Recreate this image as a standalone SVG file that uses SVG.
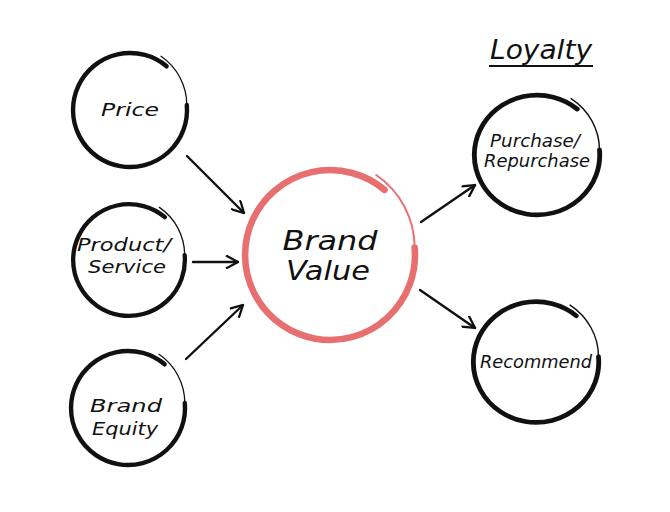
<svg xmlns="http://www.w3.org/2000/svg" xmlns:xlink="http://www.w3.org/1999/xlink" width="670" height="512" viewBox="0 0 670 512">
<style>
  .lbl { font-family: "DejaVu Sans", "Liberation Sans", sans-serif; font-style: italic; fill: #111; text-anchor: middle; }
  .sm { font-size: 18px; }
  .big { font-size: 27px; }
  .conn line { stroke: #111; stroke-width: 2.4; stroke-linecap: round; marker-end: url(#arr); }
</style>
<defs>
  <marker id="arr" viewBox="0 0 14 14" refX="13" refY="7" markerWidth="14" markerHeight="14" markerUnits="userSpaceOnUse" orient="auto">
    <path d="M1,0.5 L13,7 L1,13.5" fill="none" stroke="#111" stroke-width="2.3"/>
  </marker>
  <g id="ring">
    <path d="M36.6,-43.7 A57,57 0 1 0 56.8,-5" fill="none" stroke-width="4.4" stroke-linecap="round"/>
    <path d="M56.8,-5 A59,59 0 0 0 31,-53.7" fill="none" stroke-width="1.3" stroke-linecap="round"/>
  </g>
</defs>
<rect width="670" height="512" fill="#fff"/>

<g id="price">
  <use xlink:href="#ring" transform="translate(130,110)" stroke="#111"/>
  <text class="lbl sm" x="130" y="116" font-size="20" textLength="58" lengthAdjust="spacingAndGlyphs">Price</text>
</g>
<g id="product">
  <use xlink:href="#ring" transform="translate(129,260) scale(0.98)" stroke="#111"/>
  <text class="lbl sm" x="124" y="251" textLength="94" lengthAdjust="spacingAndGlyphs">Product/</text>
  <text class="lbl sm" x="127" y="273" textLength="78" lengthAdjust="spacingAndGlyphs">Service</text>
</g>
<g id="equity">
  <use xlink:href="#ring" transform="translate(128,408)" stroke="#111"/>
  <text class="lbl sm" x="126" y="412" textLength="72" lengthAdjust="spacingAndGlyphs">Brand</text>
  <text class="lbl sm" x="125" y="435" textLength="66" lengthAdjust="spacingAndGlyphs">Equity</text>
</g>
<g id="brandvalue">
  <use xlink:href="#ring" transform="translate(330,255) scale(1.49)" stroke="#e86f6f"/>
  <text class="lbl big" x="330" y="250" textLength="95" lengthAdjust="spacingAndGlyphs">Brand</text>
  <text class="lbl big" x="328" y="280" textLength="84" lengthAdjust="spacingAndGlyphs">Value</text>
</g>
<g id="purchase">
  <use xlink:href="#ring" transform="translate(537,155) scale(1.1,1.05)" stroke="#111"/>
  <text class="lbl sm" x="535" y="147" textLength="90" lengthAdjust="spacingAndGlyphs">Purchase/</text>
  <text class="lbl sm" x="537" y="167" textLength="106" lengthAdjust="spacingAndGlyphs">Repurchase</text>
</g>
<g id="recommend">
  <use xlink:href="#ring" transform="translate(536,362) scale(1.1,1.06)" stroke="#111"/>
  <text class="lbl sm" x="536" y="368" textLength="112" lengthAdjust="spacingAndGlyphs">Recommend</text>
</g>
<g id="loyalty">
  <text class="lbl big" x="541" y="59" textLength="102" lengthAdjust="spacingAndGlyphs">Loyalty</text>
  <line x1="489" y1="66" x2="593" y2="66" stroke="#111" stroke-width="2"/>
</g>

<g class="conn" id="connectors">
  <line x1="187" y1="156" x2="244" y2="213"/>
  <line x1="193" y1="262" x2="238" y2="262"/>
  <line x1="186" y1="359" x2="243" y2="305"/>
  <line x1="421" y1="222" x2="475" y2="185"/>
  <line x1="420" y1="290" x2="475" y2="328"/>
</g>
</svg>
